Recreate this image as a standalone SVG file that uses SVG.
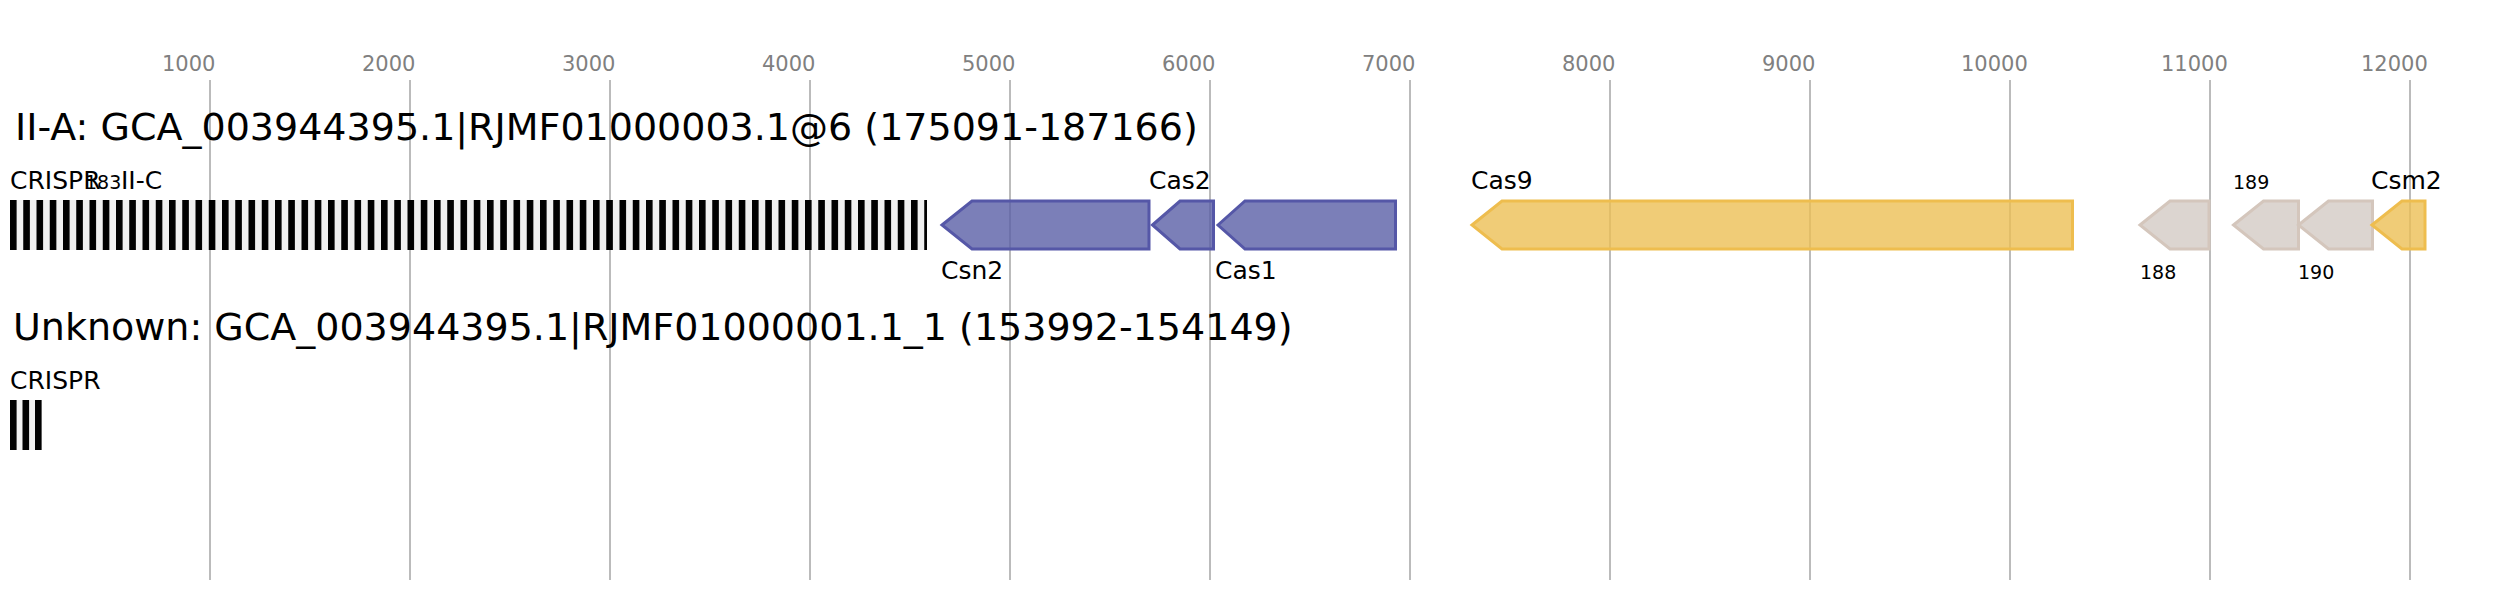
<svg xmlns="http://www.w3.org/2000/svg" width="2515" height="600" viewBox="0 0 2515 600">
<style>
text{font-family:"DejaVu Sans","Liberation Sans",sans-serif;}
.tick{font-size:21px;fill:#808080;}
.grid{stroke:#bbbbbb;stroke-width:2;}
.title{font-size:38px;fill:#000;}
.lab{font-size:25px;fill:#000;}
.num{font-size:19px;fill:#000;}
.blue{fill:#5a5fa6;fill-opacity:0.8;stroke:#5557a7;stroke-width:3;}
.yel{fill:#ecbf55;fill-opacity:0.8;stroke:#eebd4e;stroke-width:3;}
.grey{fill:#d3cac4;fill-opacity:0.8;stroke:#d4c6bc;stroke-width:3;}
.arrbg{fill:#f0f0f0;}
</style>
<defs>
<pattern id="rep" patternUnits="userSpaceOnUse" x="10" y="200" width="13.25" height="50">
<rect x="0" y="0" width="6.6" height="50" fill="#000"/>
</pattern>
</defs>
<rect width="2515" height="600" fill="#fff"/>
<g id="axis">
<line class="grid" x1="210" y1="80" x2="210" y2="580"/>
<line class="grid" x1="410" y1="80" x2="410" y2="580"/>
<line class="grid" x1="610" y1="80" x2="610" y2="580"/>
<line class="grid" x1="810" y1="80" x2="810" y2="580"/>
<line class="grid" x1="1010" y1="80" x2="1010" y2="580"/>
<line class="grid" x1="1210" y1="80" x2="1210" y2="580"/>
<line class="grid" x1="1410" y1="80" x2="1410" y2="580"/>
<line class="grid" x1="1610" y1="80" x2="1610" y2="580"/>
<line class="grid" x1="1810" y1="80" x2="1810" y2="580"/>
<line class="grid" x1="2010" y1="80" x2="2010" y2="580"/>
<line class="grid" x1="2210" y1="80" x2="2210" y2="580"/>
<line class="grid" x1="2410" y1="80" x2="2410" y2="580"/>
<text class="tick" x="162" y="71">1000</text>
<text class="tick" x="362" y="71">2000</text>
<text class="tick" x="562" y="71">3000</text>
<text class="tick" x="762" y="71">4000</text>
<text class="tick" x="962" y="71">5000</text>
<text class="tick" x="1162" y="71">6000</text>
<text class="tick" x="1362" y="71">7000</text>
<text class="tick" x="1562" y="71">8000</text>
<text class="tick" x="1762" y="71">9000</text>
<text class="tick" x="1961" y="71">10000</text>
<text class="tick" x="2161" y="71">11000</text>
<text class="tick" x="2361" y="71">12000</text>
</g>
<g id="title1"><text class="title" x="15" y="140">II-A: GCA_003944395.1|RJMF01000003.1@6 (175091-187166)</text></g>
<g id="crispr1">
<rect class="arrbg" x="10" y="200" width="917" height="50"/>
<rect x="10" y="200" width="917" height="50" fill="url(#rep)"/>
<text class="lab" x="10" y="189">CRISPR</text>
<text class="num" x="85" y="189">183</text>
<text class="lab" x="121" y="189">II-C</text>
</g>
<g id="csn2"><polygon class="blue" points="942,225 972,201 1149,201 1149,249 972,249"/><text class="lab" x="941" y="279">Csn2</text></g>
<g id="cas2"><polygon class="blue" points="1152.5,225 1180,201 1213.5,201 1213.5,249 1180,249"/><text class="lab" x="1149" y="189">Cas2</text></g>
<g id="cas1"><polygon class="blue" points="1218,225 1245,201 1395.5,201 1395.5,249 1245,249"/><text class="lab" x="1215" y="279">Cas1</text></g>
<g id="cas9"><polygon class="yel" points="1472,225 1502,201 2072.5,201 2072.5,249 1502,249"/><text class="lab" x="1471" y="189">Cas9</text></g>
<g id="g188"><polygon class="grey" points="2140,225 2170,201 2209,201 2209,249 2170,249"/><text class="num" x="2140" y="279">188</text></g>
<g id="g189"><polygon class="grey" points="2233.5,225 2263.5,201 2298.5,201 2298.5,249 2263.5,249"/><text class="num" x="2233" y="189">189</text></g>
<g id="g190"><polygon class="grey" points="2298.5,225 2328.5,201 2372.5,201 2372.5,249 2328.5,249"/><text class="num" x="2298" y="279">190</text></g>
<g id="csm2"><polygon class="yel" points="2372,225 2402,201 2425,201 2425,249 2402,249"/><text class="lab" x="2371" y="189">Csm2</text></g>
<g id="title2"><text class="title" x="13" y="340">Unknown: GCA_003944395.1|RJMF01000001.1_1 (153992-154149)</text></g>
<g id="crispr2">
<rect class="arrbg" x="10" y="400" width="32" height="50"/>
<rect x="10" y="400" width="6.6" height="50" fill="#000"/>
<rect x="22.5" y="400" width="6.6" height="50" fill="#000"/>
<rect x="35" y="400" width="6.6" height="50" fill="#000"/>
<text class="lab" x="10" y="389">CRISPR</text>
</g>
<g id="connectors"></g>
</svg>
